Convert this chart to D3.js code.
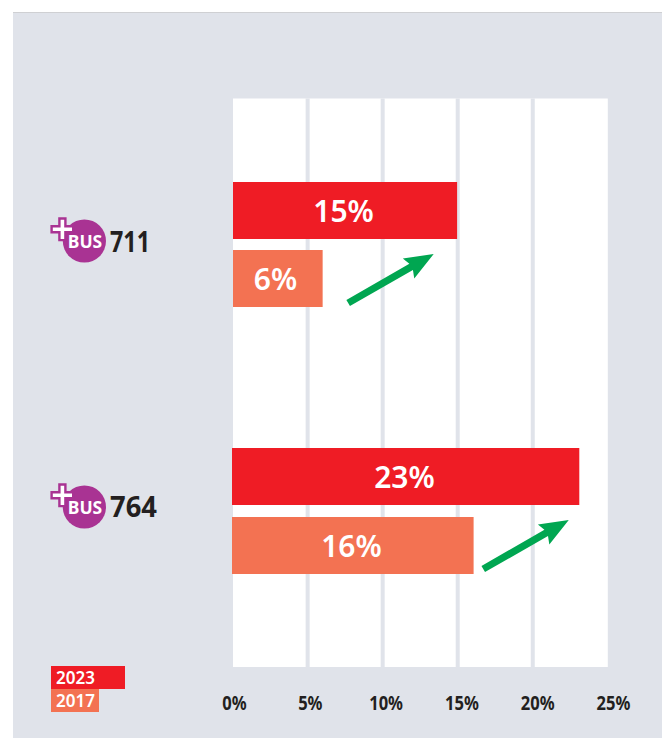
<!DOCTYPE html>
<html>
<head>
<meta charset="utf-8">
<script src="https://cdn.jsdelivr.net/npm/d3@7"></script>
<style>
  html, body { margin: 0; padding: 0; background: #fff; }
  svg { display: block; }
  text { font-family: "Noto Sans", sans-serif; }
</style>
</head>
<body>
<div id="chart"></div>
<script>
const lines = ["711", "764"];
const years = ["2023", "2017"];
const values2023 = [15, 23];
const values2017 = [6, 16];
const xTicks = [0, 5, 10, 15, 20, 25];
// axis value each bar's label is centred on (not exactly mid bar in the original)
const labelAt2023 = [7.39, 11.45];
const labelAt2017 = [2.86, 7.92];
// arrows run between these axis values, next to each pair of bars
const arrowFrom = [7.7, 16.7];
const arrowTo = [13.4, 22.4];

const width = 662, height = 738;
const panelColor = "#e0e3ea";
const yearColor = d3.scaleOrdinal().domain(years).range(["#ef1c25", "#f37252"]);
const purple = "#a93393";
const dark = "#231f20";

const svg = d3.select("#chart").append("svg")
    .attr("width", width)
    .attr("height", height);

// background panel
svg.append("rect").attr("x", 13).attr("y", 12).attr("width", width - 13).attr("height", height - 12)
    .attr("fill", panelColor);
svg.append("rect").attr("x", 13).attr("y", 12).attr("width", width - 13).attr("height", 1)
    .attr("fill", "#cfd0d3");

// scales
const x = d3.scaleLinear().domain([0, 25]).range([232.6, 607.8]);
const xLabels = d3.scaleLinear().domain([0, 25]).range([234, 613]); // labels spread a bit wider than grid
// the two bar groups are not quite aligned with each other in the original
const barX = d3.scaleOrdinal().domain(lines).range([
    d3.scaleLinear().domain([0, 25]).range([233, 606.5]),
    d3.scaleLinear().domain([0, 25]).range([232, 609.5])
]);
const groupY = d3.scalePoint().domain(lines).range([182, 448]);
const rowY = d3.scaleOrdinal().domain(years).range([
    groupY,
    d3.scalePoint().domain(lines).range([250, 517])
]);
const barH = 57;

// plot area + gridlines
svg.append("rect")
    .attr("x", 233).attr("y", 98.5)
    .attr("width", x(25) - 233).attr("height", 568.5)
    .attr("fill", "#fff");

svg.append("g").selectAll("line")
    .data(xTicks.slice(1, -1))
    .join("line")
    .attr("x1", d => x(d)).attr("x2", d => x(d))
    .attr("y1", 98.5).attr("y2", 667)
    .attr("stroke", panelColor)
    .attr("stroke-width", 4);

// bars
const rows = lines.flatMap((l, i) => [
    { line: l, year: "2023", value: values2023[i], labelAt: labelAt2023[i] },
    { line: l, year: "2017", value: values2017[i], labelAt: labelAt2017[i] }
]);

const bars = svg.append("g").selectAll("g")
    .data(rows)
    .join("g")
    .attr("transform", d => `translate(0,${rowY(d.year)(d.line)})`);

bars.append("rect")
    .attr("x", d => barX(d.line)(0))
    .attr("width", d => barX(d.line)(d.value) - barX(d.line)(0))
    .attr("height", barH)
    .attr("fill", d => yearColor(d.year));

bars.append("text")
    .attr("x", d => x(d.labelAt))
    .attr("y", barH / 2 + 11)
    .attr("text-anchor", "middle")
    .attr("font-size", 30)
    .attr("font-weight", 600)
    .attr("fill", "#fff")
    .text(d => d.value + "%");

// green arrows
const arrowGroup = svg.append("g");
lines.forEach((l, i) => {
    const x0 = x(arrowFrom[i]), x1 = x(arrowTo[i]);
    const y1 = groupY(l) + 72, y0 = y1 + 49;
    const a = Math.atan2(y1 - y0, x1 - x0);
    const len = Math.hypot(x1 - x0, y1 - y0);
    const shaft = 3.6, headW = 11.5, headL = 29;
    const outline = [
        [0, -shaft], [len - headL + 3, -shaft], [len - headL, -headW],
        [len, 0], [len - headL, headW], [len - headL + 3, shaft], [0, shaft]
    ];
    arrowGroup.append("path")
        .attr("d", d3.line()(outline) + "Z")
        .attr("transform", `translate(${x0},${y0}) rotate(${a * 180 / Math.PI})`)
        .attr("fill", "#00a651");
});

// +BUS badges and line numbers
const labels = svg.append("g").selectAll("g")
    .data(lines)
    .join("g")
    .attr("transform", d => `translate(84.4,${groupY(d) + 59})`);

labels.append("circle").attr("r", 21.6).attr("fill", purple);

// plus sign sits on the top left of the badge
const plus = "M-25,-22.5h6v7.8h7.8v6h-7.8v7.8h-6v-7.8h-7.8v-6h7.8z";
labels.append("path")
    .attr("d", plus)
    .attr("fill", "#fff")
    .attr("stroke", purple)
    .attr("stroke-width", 2.4);

labels.append("text")
    .attr("x", 0.6).attr("y", 7)
    .attr("text-anchor", "middle")
    .attr("font-size", 18.5)
    .attr("font-weight", 700)
    .attr("fill", "#fff")
    .attr("textLength", 34.5)
    .attr("lengthAdjust", "spacingAndGlyphs")
    .text("BUS");

labels.append("text")
    .attr("x", 25.6).attr("y", (d, i) => [11, 10][i])
    .attr("font-size", 28)
    .attr("font-weight", 700)
    .attr("fill", dark)
    .attr("textLength", (d, i) => [40, 47][i])
    .attr("lengthAdjust", "spacingAndGlyphs")
    .text(d => d);

// legend
const legendW = d3.scaleOrdinal().domain(years).range([74, 48]);
const legend = svg.append("g").attr("transform", "translate(51,666)");
const legendItems = legend.selectAll("g")
    .data(years)
    .join("g")
    .attr("transform", (d, i) => `translate(0,${i * 23})`);
legendItems.append("rect")
    .attr("width", d => legendW(d))
    .attr("height", 23)
    .attr("fill", d => yearColor(d));
legendItems.append("text")
    .attr("x", 5).attr("y", 18)
    .attr("font-size", 18.5)
    .attr("font-weight", 600)
    .attr("fill", "#fff")
    .attr("textLength", 39)
    .attr("lengthAdjust", "spacingAndGlyphs")
    .text(d => d);

// x axis labels
const axis = d3.axisBottom(xLabels)
    .tickValues(xTicks)
    .tickSize(0)
    .tickFormat(d => d + "%");

const axisG = svg.append("g")
    .attr("transform", "translate(0,692)")
    .call(axis);
axisG.select(".domain").remove();
axisG.selectAll("text")
    .attr("font-family", "Noto Sans")
    .attr("font-size", 19)
    .attr("font-weight", 700)
    .attr("fill", dark)
    .attr("dy", "0.8em")
    .attr("lengthAdjust", "spacingAndGlyphs")
    .attr("textLength", function() { return this.getComputedTextLength() * 0.87; });
</script>
</body>
</html>
